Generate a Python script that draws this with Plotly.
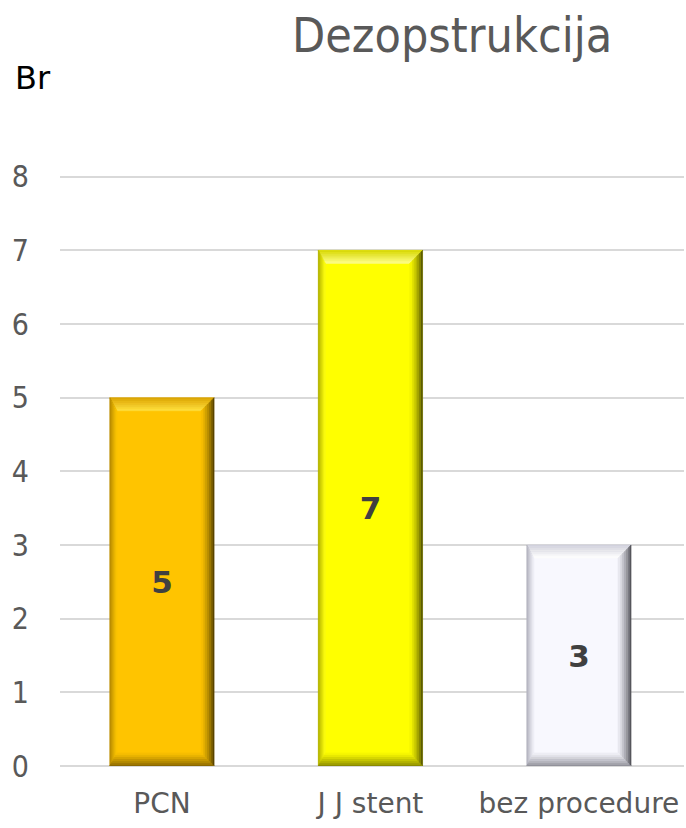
import plotly.graph_objects as go

# Data
categories = ["PCN", "J J stent", "bez procedure"]
values = [5, 7, 3]

# Per-bar colours: face, then (outer, inner) pairs for each bevelled side
face_colors = ["#FFC400", "#FFFF00", "#F8F8FE"]
top_bevel = [("#D9A200", "#FFE040"), ("#D6D600", "#FFFF8C"), ("#CFCFDA", "#FFFFFF")]
left_bevel = [("#A67C00", "#FFC800"), ("#A3A300", "#FFFF10"), ("#A4A4B0", "#F4F4FA")]
right_bevel = [("#2E2300", "#FFC400"), ("#2E2E00", "#FFFF00"), ("#2E2E34", "#F0F0F8")]
bottom_bevel = [("#7A5C00", "#FFC400"), ("#7A7A00", "#FFFF00"), ("#84848E", "#F4F4FA")]

FONT = "DejaVu Sans, sans-serif"
FONT_C = "DejaVu Sans Condensed, DejaVu Sans, sans-serif"
BAR_W = 0.5


def mix(c1, c2, t):
    a = [int(c1[i:i + 2], 16) for i in (1, 3, 5)]
    b = [int(c2[i:i + 2], 16) for i in (1, 3, 5)]
    return "#" + "".join(f"{round(p + (q - p) * t):02X}" for p, q in zip(a, b))


fig = go.Figure()
fig.add_trace(go.Bar(
    x=list(range(len(categories))),
    y=values,
    width=BAR_W,
    marker=dict(color=face_colors, line=dict(width=0)),
    text=[str(v) for v in values],
    textposition="inside",
    insidetextanchor="middle",
    textangle=0,
    textfont=dict(family=FONT, size=31, color="#404040", weight="bold"),
    hoverinfo="skip",
))

# Bevelled edges: graded trapezoid bands around each bar, derived from its value
bx = 0.062   # bevel depth along x (category units)
by = 0.177   # bevel depth along y (value units)
left_scale = 0.55
n_bands = 7
shapes = []
for i, v in enumerate(values):
    x0, x1 = i - BAR_W / 2, i + BAR_W / 2
    y0, y1 = 0, v
    for k in range(n_bands):
        a, b = k / n_bands, (k + 1) / n_bands
        t = (k + 0.5) / n_bands
        lx_a, lx_b = a * bx * left_scale, b * bx * left_scale
        sides = [
            (mix(*top_bevel[i], t),
             [(x0 + lx_a, y1 - a * by), (x1 - a * bx, y1 - a * by),
              (x1 - b * bx, y1 - b * by), (x0 + lx_b, y1 - b * by)]),
            (mix(*left_bevel[i], t ** 0.8),
             [(x0 + lx_a, y0 + a * by), (x0 + lx_a, y1 - a * by),
              (x0 + lx_b, y1 - b * by), (x0 + lx_b, y0 + b * by)]),
            (mix(*right_bevel[i], t ** 0.6),
             [(x1 - a * bx, y0 + a * by), (x1 - a * bx, y1 - a * by),
              (x1 - b * bx, y1 - b * by), (x1 - b * bx, y0 + b * by)]),
            (mix(*bottom_bevel[i], t ** 0.8),
             [(x0 + lx_a, y0 + a * by), (x1 - a * bx, y0 + a * by),
              (x1 - b * bx, y0 + b * by), (x0 + lx_b, y0 + b * by)]),
        ]
        for col, pts in sides:
            path = "M " + " L ".join(f"{px:.4f},{py:.4f}" for px, py in pts) + " Z"
            shapes.append(dict(type="path", path=path, xref="x", yref="y",
                               fillcolor=col, line=dict(width=0.6, color=col),
                               layer="above"))

W, H = 686, 828
ML, MR, MT, MB = 60, 2, 173, 62

fig.update_layout(
    width=W,
    height=H,
    margin=dict(l=ML, r=MR, t=MT, b=MB),
    paper_bgcolor="white",
    plot_bgcolor="white",
    showlegend=False,
    shapes=shapes,
    xaxis=dict(
        tickmode="array",
        tickvals=list(range(len(categories))),
        ticktext=categories,
        range=[-0.489, 2.504],
        showgrid=False,
        zeroline=False,
        showline=False,
        ticks="",
        ticklabelstandoff=18,
        tickfont=dict(family=FONT, size=28, color="#595959"),
    ),
    yaxis=dict(
        range=[0, 8.05],
        tickmode="array",
        tickvals=list(range(0, 9)),
        showgrid=True,
        gridcolor="#D9D9D9",
        gridwidth=1.5,
        zeroline=True,
        zerolinecolor="#D9D9D9",
        zerolinewidth=1.5,
        showline=False,
        ticks="",
        ticklabelstandoff=30,
        tickfont=dict(family=FONT_C, size=30, color="#595959"),
    ),
)

# Title and axis caption placed by pixel position within the page
pw, ph = W - ML - MR, H - MT - MB
for text, px, py, font in [
    ("Dezopstrukcija", 452, 35, dict(family=FONT_C, size=48, color="#595959")),
    ("Br", 33, 78, dict(family=FONT, size=32, color="#000000")),
]:
    fig.add_annotation(text=text, x=(px - ML) / pw, y=(H - MB - py) / ph,
                       xref="paper", yref="paper", xanchor="center", yanchor="middle",
                       showarrow=False, font=font)

fig.write_html("out.html")
